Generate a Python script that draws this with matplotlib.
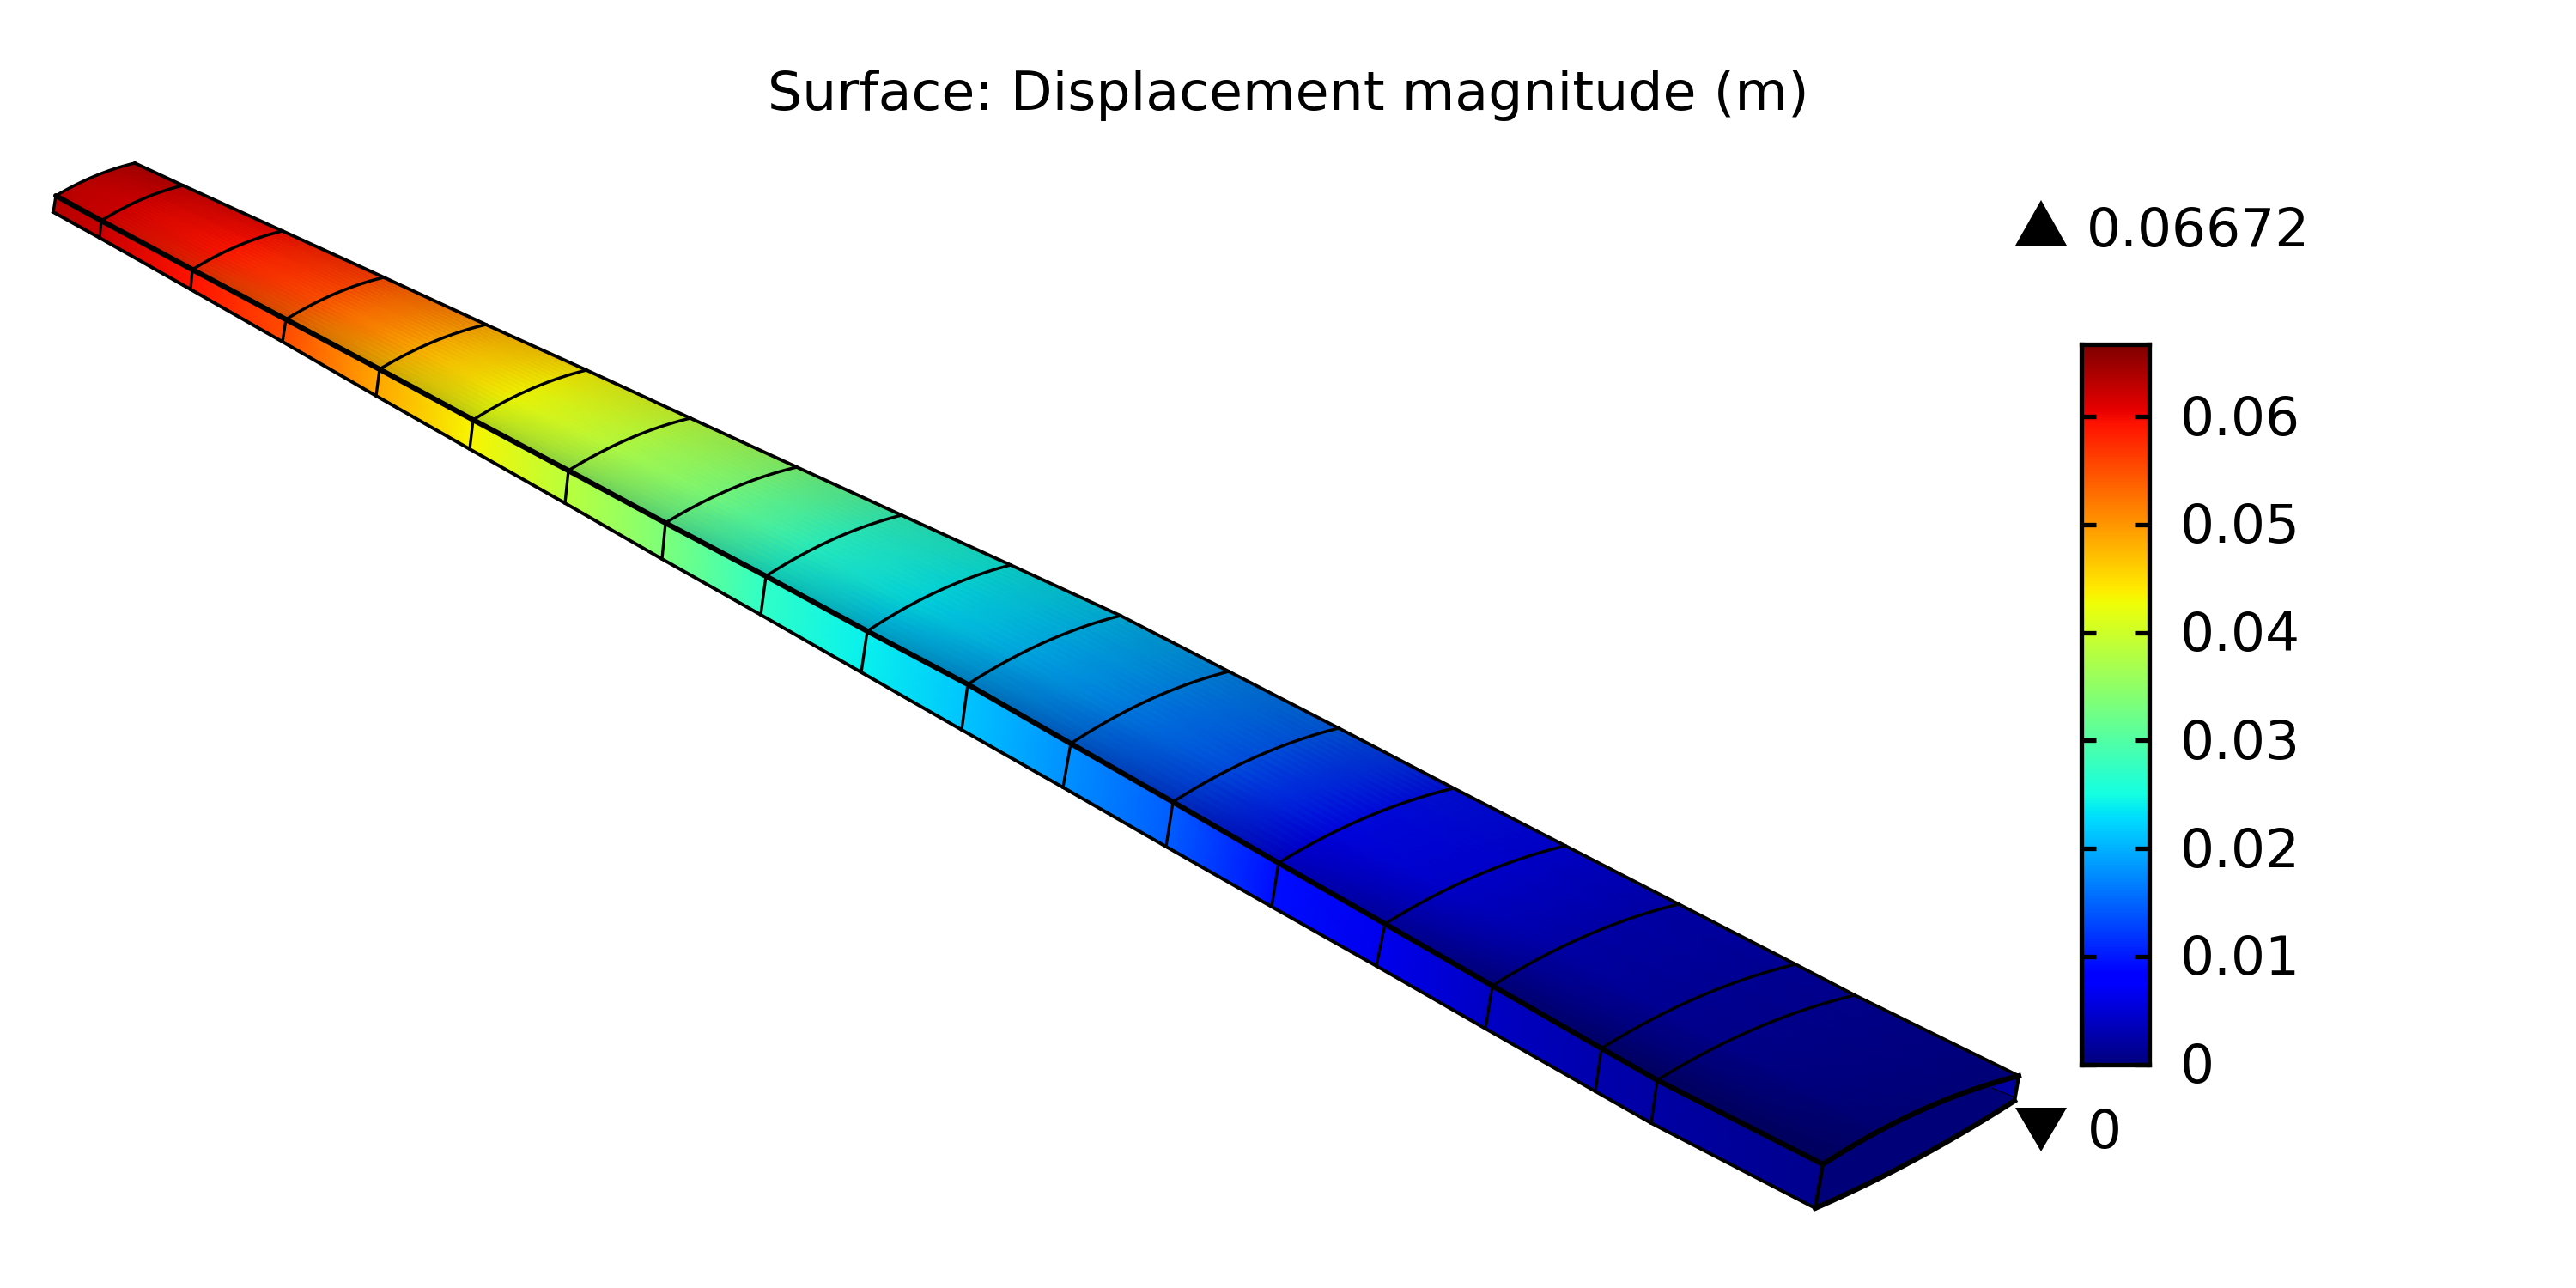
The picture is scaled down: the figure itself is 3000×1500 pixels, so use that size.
import matplotlib
matplotlib.use('Agg')
import matplotlib.pyplot as plt
import matplotlib.transforms as mtrans
import numpy as np

# wing stations, image pixel coordinates of the 3000x1500 picture
front_x=[65,118,224,333,442,551,662,775,892,1010,1127,1247,1366,1489,1613,1738,1865,1930,2123]
front_y=[228,257,314,372,430,489,548,609,671,735,797,866,934,1005,1076,1148,1221,1258,1356]
back_x=[157,213,329,447,566,683,804,928,1050,1177,1305,1431,1559,1693,1823,1955,2091,2160,2351]
back_y=[190,216,269,323,378,431,487,544,600,658,717,782,848,918,985,1053,1123,1159,1253]
bottom_x=[62,116,222,329,438,547,658,771,886,1003,1120,1238,1358,1481,1603,1730,1858,1923,2114]
bottom_y=[247,277,337,398,461,523,586,651,716,783,850,917,986,1056,1125,1198,1271,1308,1407]

# displacement magnitude at each station (m)
disp=[0.0635,0.0623,0.0594,0.0553,0.0488,0.0434,0.0385,0.0335,0.0272,0.0240,0.0212,0.0178,0.0145,0.0092,0.0065,0.0041,0.0028,0.0023,0.0009]

# top skin: brightness and value offset from front edge to back edge
shade_t=[0,0.12,0.35,0.6,1]
shade_v=[0.84,0.92,1.0,0.98,0.92]
offset_t=[0,0.3,1]
offset_v=[-0.002,-0.0005,0.0005]

d_max=0.06672
cbar_ticks=[0,0.01,0.02,0.03,0.04,0.05,0.06]
cbar_labels=['0','0.01','0.02','0.03','0.04','0.05','0.06']

fx,fy=np.array(front_x,float),np.array(front_y,float)
bx,by=np.array(back_x,float),np.array(back_y,float)
lx,ly=np.array(bottom_x,float),np.array(bottom_y,float)
d=np.array(disp)

def arc(i,t):
    # chord line of one station, bowed upward like the airfoil
    x=fx[i]+t*(bx[i]-fx[i])
    y=fy[i]+t*(by[i]-fy[i])-0.11*(fy[i]-by[i])*4*t*(1-t)
    return x,y

fig=plt.figure(figsize=(15,7.5),dpi=200)
ax=fig.add_axes([0,0,1,1])
ax.set_xlim(0,3000)
ax.set_ylim(1500,0)
ax.axis('off')

cmap=plt.get_cmap('jet')
def col(v):
    return np.array(cmap(np.clip(np.asarray(v),0,d_max)/d_max))[...,:3]

# side face
sx=np.vstack([fx,lx])
sy=np.vstack([fy,ly])
sc=np.stack([col(d),col(d)])
ax.pcolormesh(sx,sy,sc,shading='gouraud',zorder=1)

# top face
t=np.linspace(0,1,25)
tx=np.array([arc(i,t)[0] for i in range(len(d))])
ty=np.array([arc(i,t)[1] for i in range(len(d))])
s=np.interp(t,shade_t,shade_v)
off=np.interp(t,offset_t,offset_v)
peak=np.interp(d,[0.02,0.035],[0.86,0.97])
tc=np.array([col(v+off)*(s*p)[:,None] for v,p in zip(d,peak)])
ax.pcolormesh(tx,ty,tc,shading='gouraud',zorder=2)

# root end face
ex,ey=arc(18,t)
low_x=lx[18]+t*(2346-lx[18])
low_y=ly[18]+t*(1282-ly[18])+6*4*t*(1-t)
ax.fill(np.r_[ex,low_x[::-1]],np.r_[ey,low_y[::-1]],color='#000078',lw=0,zorder=3)
ax.fill([2351,2346,2320],[1253,1280,1267],color='#0000a0',lw=0,zorder=3)
ax.plot([2320,2346],[1267,1278],color='k',lw=0.4,zorder=4)

# mesh edges
for i in range(1,18):
    ax.plot(*arc(i,t),color='k',lw=1.25,zorder=4)
    ax.plot([fx[i],lx[i]],[fy[i],ly[i]],color='k',lw=1.2,zorder=4)
ax.plot(*arc(0,t),color='k',lw=1.25,zorder=4)
ax.plot(fx,fy,color='k',lw=2.2,zorder=5,solid_capstyle='round')
ax.plot(bx,by,color='k',lw=1.4,zorder=5)
ax.plot(lx,ly,color='k',lw=1.4,zorder=5)
ax.plot([fx[0],lx[0]],[fy[0],ly[0]],color='k',lw=1.2,zorder=5)
ax.plot(ex,ey,color='k',lw=2.2,zorder=5)
ax.plot(low_x,low_y,color='k',lw=2.2,zorder=5)
ax.plot([fx[18],lx[18]],[fy[18],ly[18]],color='k',lw=1.6,zorder=5)
ax.plot([2351,2346],[1253,1282],color='k',lw=1.6,zorder=5)

# max and min markers
ax.fill([2347,2407,2377],[286,286,233],color='k',lw=0)
ax.fill([2347,2407,2377],[1290,1290,1341],color='k',lw=0)
ax.text(2430,287,'0.06672',fontsize=22.7,va='baseline',ha='left')
ax.text(2431,1337,'0',fontsize=22.7,va='baseline',ha='left')

ax.text(1500,128,'Surface: Displacement magnitude (m)',fontsize=22.8,ha='center',va='baseline')

# colour bar
cax=fig.add_axes([2423.5/3000,1-1239.5/1500,79/3000,839/1500])
grad=np.linspace(d_max,0,512).reshape(-1,1)
cax.imshow(grad,cmap='jet',vmin=0,vmax=d_max,aspect='auto',extent=[0,1,0,d_max])
cax.set_xticks([])
cax.set_yticks(cbar_ticks)
cax.set_yticklabels(cbar_labels,fontsize=22.7)
cax.tick_params(axis='y',direction='in',left=True,right=True,labelleft=False,labelright=True,length=6,width=1.9,pad=13)
shift=mtrans.ScaledTranslation(0,1/100,fig.dpi_scale_trans)
for lab in cax.get_yticklabels():
    lab.set_transform(lab.get_transform()+shift)
for sp in cax.spines.values():
    sp.set_linewidth(1.9)

fig.savefig('out.png',dpi=200)
